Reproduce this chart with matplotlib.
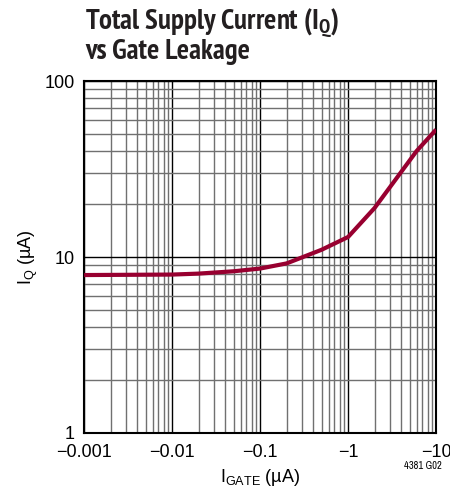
import matplotlib.pyplot as plt
import numpy as np
from matplotlib import font_manager
from matplotlib.font_manager import FontProperties
from matplotlib.ticker import FixedLocator, NullFormatter

# data
igate_ua = [-0.001, -0.01, -0.02, -0.05, -0.1, -0.2, -0.5, -1, -2, -3, -6, -10]
iq_ua = [7.9, 7.95, 8.05, 8.3, 8.6, 9.2, 11.0, 13.0, 19.0, 25.0, 40.0, 53.0]
x_ticks = [0.001, 0.01, 0.1, 1, 10]
x_labels = ["\u22120.001", "\u22120.01", "\u22120.1", "\u22121", "\u221210"]
y_ticks = [1, 10, 100]
y_labels = ["1", "10", "100"]

plt.rcParams['font.family'] = ['Liberation Sans', 'DejaVu Sans']


def find_narrow(bold):
    # look for a condensed face among the installed fonts, narrow ones first
    hits = []
    for f in font_manager.fontManager.ttflist:
        low = f.fname.lower()
        if 'italic' in low or 'oblique' in low:
            continue
        is_bold = f.weight in ('bold', 700) or 'bold' in low
        if is_bold != bold:
            continue
        if 'narrow' in low:
            hits.append((0, f.fname))
        elif 'condensed' in low or f.stretch in ('condensed', 'semi-condensed'):
            hits.append((1, f.fname))
    hits.sort()
    return hits[0] if hits else (None, None)


rank, title_file = find_narrow(True)
if rank == 0:
    title_font = FontProperties(fname=title_file, size=20.8)
elif rank == 1:
    title_font = FontProperties(fname=title_file, size=15)
else:
    title_font = FontProperties(family='Liberation Sans', weight='bold', size=15.5)
rank2, small_file = find_narrow(False)
small_font = FontProperties(fname=small_file, size=7.5) if small_file else FontProperties(size=7)

fig = plt.figure(figsize=(4.5, 5.04), dpi=100)
ax = fig.add_axes([0.187, 0.141, 0.782, 0.698])

ax.set_xscale('log')
ax.set_yscale('log')
ax.set_xlim(0.001, 10)
ax.set_ylim(1, 100)

minor_x = [m * 10.0 ** e for e in range(-3, 1) for m in range(2, 10)]
minor_y = [m * 10.0 ** e for e in range(0, 2) for m in range(2, 10)]
ax.xaxis.set_major_locator(FixedLocator(x_ticks))
ax.xaxis.set_minor_locator(FixedLocator(minor_x))
ax.yaxis.set_major_locator(FixedLocator(y_ticks))
ax.yaxis.set_minor_locator(FixedLocator(minor_y))
ax.set_xticklabels(x_labels)
ax.set_yticklabels(y_labels)
ax.xaxis.set_minor_formatter(NullFormatter())
ax.yaxis.set_minor_formatter(NullFormatter())
ax.tick_params(which='both', length=0, labelsize=13)
ax.tick_params(axis='x', pad=8)
ax.tick_params(axis='y', pad=7)

ax.grid(True, which='major', color='black', linewidth=1.0)
ax.grid(True, which='minor', color='#707070', linewidth=1.0)
for s in ax.spines.values():
    s.set_linewidth(1.5)

ax.plot(np.abs(igate_ua), iq_ua, color='#980030', linewidth=3, solid_capstyle='butt', zorder=3)

ax.set_xlabel("I$_{\\mathregular{GATE}}$ (\u00b5A)", fontsize=13, labelpad=4)
ax.set_ylabel("I$_{\\mathregular{Q}}$ (\u00b5A)", fontsize=13, labelpad=3)

fig.text(0.189, 0.988, "Total Supply Current (I$_{\\mathregular{Q}}$)\nvs Gate Leakage",
         fontproperties=title_font, va='top', ha='left', linespacing=0.95, color='#231f20')
fig.text(0.982, 0.066, "4381 G02", fontproperties=small_font, ha='right', va='bottom')

fig.savefig("out.png", dpi=100)
